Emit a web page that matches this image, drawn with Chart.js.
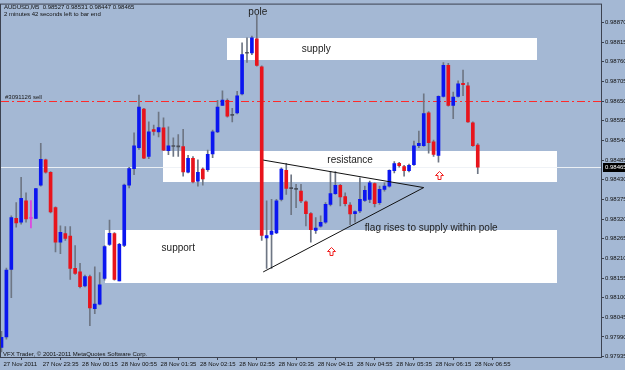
<!DOCTYPE html>
<html>
<head>
<meta charset="utf-8">
<script src="https://cdn.jsdelivr.net/npm/chart.js@4.4.0/dist/chart.umd.min.js"></script>
<style>
  html, body { margin: 0; padding: 0; background: #a4b8d4; }
  canvas { display: block; }
</style>
</head>
<body>
<canvas id="chart" width="625" height="370"></canvas>
<script>
// AUDUSD M5 candles, bar 0 = 27 Nov 22:55
const opens = [
  0.97961, 0.97990, 0.98179, 0.98322, 0.98311, 0.98371, 0.98322, 0.98322, 0.98415, 0.98486,
  0.98451, 0.98352, 0.98255, 0.98279, 0.98272, 0.98182, 0.98172, 0.98133, 0.98159, 0.98069,
  0.98082, 0.98154, 0.98249, 0.98279, 0.98147, 0.98246, 0.98415, 0.98461, 0.98520, 0.98628,
  0.98495, 0.98570, 0.98564, 0.98575, 0.98511, 0.98523, 0.98522, 0.98523, 0.98451, 0.98490,
  0.98426, 0.98460, 0.98458, 0.98502, 0.98564, 0.98638, 0.98652, 0.98610, 0.98617, 0.98670,
  0.98784, 0.98785, 0.98824, 0.98746, 0.98267, 0.98277, 0.98281, 0.98375, 0.98456, 0.98405,
  0.98403, 0.98398, 0.98368, 0.98335, 0.98288, 0.98300, 0.98311, 0.98361, 0.98391, 0.98414,
  0.98383, 0.98359, 0.98335, 0.98343, 0.98372, 0.98375, 0.98419, 0.98366, 0.98403, 0.98412,
  0.98455, 0.98476, 0.98467, 0.98455, 0.98472, 0.98525, 0.98525, 0.98617, 0.98536, 0.98498,
  0.98663, 0.98750, 0.98638, 0.98663, 0.98700, 0.98693, 0.98589, 0.98527
];
const highs = [
  0.98006, 0.98183, 0.98329, 0.98366, 0.98437, 0.98393, 0.98372, 0.98406, 0.98532, 0.98488,
  0.98453, 0.98354, 0.98301, 0.98299, 0.98299, 0.98246, 0.98196, 0.98163, 0.98163, 0.98186,
  0.98170, 0.98246, 0.98317, 0.98282, 0.98252, 0.98418, 0.98465, 0.98561, 0.98667, 0.98630,
  0.98592, 0.98583, 0.98619, 0.98603, 0.98578, 0.98547, 0.98556, 0.98571, 0.98498, 0.98495,
  0.98486, 0.98463, 0.98513, 0.98569, 0.98652, 0.98679, 0.98656, 0.98630, 0.98677, 0.98813,
  0.98827, 0.98832, 0.98890, 0.98749, 0.98371, 0.98375, 0.98375, 0.98463, 0.98476, 0.98444,
  0.98417, 0.98417, 0.98371, 0.98338, 0.98324, 0.98329, 0.98366, 0.98453, 0.98453, 0.98417,
  0.98393, 0.98366, 0.98343, 0.98435, 0.98412, 0.98426, 0.98421, 0.98412, 0.98421, 0.98458,
  0.98481, 0.98479, 0.98470, 0.98474, 0.98538, 0.98566, 0.98670, 0.98621, 0.98541, 0.98665,
  0.98758, 0.98756, 0.98675, 0.98707, 0.98737, 0.98702, 0.98592, 0.98531
];
const lows = [
  0.97948, 0.97984, 0.98100, 0.98297, 0.98306, 0.98311, 0.98295, 0.98321, 0.98412, 0.98448,
  0.98337, 0.98228, 0.98223, 0.98260, 0.98151, 0.98165, 0.98127, 0.98130, 0.98022, 0.98055,
  0.98080, 0.98149, 0.98246, 0.98149, 0.98147, 0.98243, 0.98407, 0.98444, 0.98515, 0.98489,
  0.98489, 0.98555, 0.98550, 0.98511, 0.98500, 0.98495, 0.98495, 0.98440, 0.98449, 0.98421,
  0.98412, 0.98415, 0.98453, 0.98492, 0.98562, 0.98638, 0.98605, 0.98592, 0.98614, 0.98667,
  0.98758, 0.98780, 0.98748, 0.98260, 0.98182, 0.98182, 0.98279, 0.98371, 0.98389, 0.98332,
  0.98352, 0.98366, 0.98301, 0.98255, 0.98280, 0.98297, 0.98308, 0.98357, 0.98389, 0.98357,
  0.98357, 0.98304, 0.98311, 0.98338, 0.98369, 0.98366, 0.98354, 0.98361, 0.98398, 0.98409,
  0.98449, 0.98465, 0.98440, 0.98452, 0.98470, 0.98520, 0.98523, 0.98504, 0.98495, 0.98479,
  0.98661, 0.98636, 0.98601, 0.98661, 0.98665, 0.98590, 0.98523, 0.98447
];
const closes = [
  0.97989, 0.98177, 0.98324, 0.98309, 0.98378, 0.98320, 0.98322, 0.98405, 0.98487, 0.98451,
  0.98340, 0.98255, 0.98283, 0.98266, 0.98182, 0.98168, 0.98131, 0.98159, 0.98071, 0.98082,
  0.98136, 0.98243, 0.98280, 0.98151, 0.98249, 0.98415, 0.98461, 0.98525, 0.98633, 0.98490,
  0.98564, 0.98565, 0.98576, 0.98513, 0.98525, 0.98523, 0.98522, 0.98452, 0.98490, 0.98424,
  0.98451, 0.98432, 0.98501, 0.98564, 0.98633, 0.98653, 0.98608, 0.98610, 0.98665, 0.98780,
  0.98784, 0.98827, 0.98750, 0.98274, 0.98274, 0.98286, 0.98371, 0.98460, 0.98406, 0.98405,
  0.98403, 0.98371, 0.98335, 0.98290, 0.98295, 0.98311, 0.98361, 0.98391, 0.98414, 0.98382,
  0.98363, 0.98334, 0.98341, 0.98375, 0.98400, 0.98421, 0.98363, 0.98403, 0.98412, 0.98456,
  0.98475, 0.98469, 0.98455, 0.98470, 0.98525, 0.98532, 0.98615, 0.98534, 0.98501, 0.98663,
  0.98750, 0.98638, 0.98661, 0.98698, 0.98696, 0.98592, 0.98525, 0.98465
];
const markedBars = [6];

const tickBars = [0, 8, 16, 24, 32, 40, 48, 56, 64, 72, 80, 88, 96];
const tickLabels = [
  '27 Nov 2011', '27 Nov 23:35', '28 Nov 00:15', '28 Nov 00:55', '28 Nov 01:35',
  '28 Nov 02:15', '28 Nov 02:55', '28 Nov 03:35', '28 Nov 04:15', '28 Nov 04:55',
  '28 Nov 05:35', '28 Nov 06:15', '28 Nov 06:55'
];
const priceTicks = [
  0.98870, 0.98815, 0.98760, 0.98705, 0.98650, 0.98595, 0.98540, 0.98485, 0.98430,
  0.98375, 0.98320, 0.98265, 0.98210, 0.98155, 0.98100, 0.98045, 0.97990, 0.97935
];

// drawn objects on the chart (bar index / price)
const zoneNames = ['supply', 'resistance', 'support'];
const zoneFrom = [45.9, 32.9, 21.1];
const zoneTo = [109.1, 113.1, 113.1];
const zoneTop = [0.98826, 0.98510, 0.98288];
const zoneBottom = [0.98765, 0.98424, 0.98142];
const zoneLabelBars = [64.1, 71.0, 36.0];
const zoneLabelPrices = [0.98795, 0.98485, 0.98239];

const flagPoints = [
  { x: 53.3, y: 0.98485 },
  { x: 86.0, y: 0.98408 },
  { x: 53.3, y: 0.98172 }
];
const flagText = 'flag rises to supply within pole';
const flagTextBar = 74.0;
const flagTextPrice = 0.98295;
const poleTextBar = 52.2;
const poleTextPrice = 0.98898;

const arrowBars = [67.2, 89.2];
const arrowPrices = [0.98230, 0.98443];

const orderPrice = 0.98650;
const orderLabel = '#3091126 sell';

const headerLine1 = 'AUDUSD,M5  0.98527 0.98531 0.98447 0.98465';
const headerLine2 = '2 minutes 42 seconds left to bar end';
const footerText = 'VFX Trader, \u00a9 2001-2011 MetaQuotes Software Corp.';

const SMALL_FAMILY = '"Liberation Sans", Arial, sans-serif';
const SMALL_FONT = '6px ' + SMALL_FAMILY;
const NOTE_FONT = '10px ' + SMALL_FAMILY;
const FRAME = '#3c4250';

const bars = opens.map((o, i) => i);
const bodyColors = bars.map(i => {
  if (markedBars.includes(i)) return '#e040e0';
  if (closes[i] > opens[i]) return '#0b16f0';
  if (closes[i] < opens[i]) return '#e8141c';
  return '#4a4f5a';
});
const wickColors = bars.map(i => markedBars.includes(i) ? '#e040e0' : '#6e7684');

const overlay = {
  id: 'overlay',
  beforeDatasetsDraw(chart) {
    const { ctx, chartArea: a, scales: { x, y } } = chart;
    ctx.save();
    ctx.beginPath();
    ctx.rect(a.left, a.top, a.right - a.left, a.bottom - a.top);
    ctx.clip();

    ctx.fillStyle = '#ffffff';
    zoneNames.forEach((n, i) => {
      const x0 = Math.round(x.getPixelForValue(zoneFrom[i]));
      const x1 = Math.round(x.getPixelForValue(zoneTo[i]));
      const y0 = Math.round(y.getPixelForValue(zoneTop[i]));
      const y1 = Math.round(y.getPixelForValue(zoneBottom[i]));
      ctx.fillRect(x0, y0, x1 - x0, y1 - y0);
    });

    // bid line
    const by = Math.round(y.getPixelForValue(closes[closes.length - 1])) + 0.5;
    ctx.strokeStyle = 'rgba(238,241,246,0.95)';
    ctx.lineWidth = 1;
    ctx.beginPath();
    ctx.moveTo(a.left, by);
    ctx.lineTo(a.right, by);
    ctx.stroke();

    // order line
    const oy = Math.round(y.getPixelForValue(orderPrice)) + 0.5;
    ctx.strokeStyle = '#ff2a2a';
    ctx.setLineDash([8, 3, 2, 3]);
    ctx.beginPath();
    ctx.moveTo(a.left, oy);
    ctx.lineTo(a.right, oy);
    ctx.stroke();
    ctx.setLineDash([]);

    ctx.fillStyle = '#1a1a1a';
    ctx.font = SMALL_FONT;
    ctx.textAlign = 'left';
    ctx.textBaseline = 'bottom';
    ctx.fillText(orderLabel, a.left + 4, oy - 1);
    ctx.restore();
  },
  afterDatasetsDraw(chart) {
    const { ctx, chartArea: a, scales: { x, y } } = chart;
    ctx.save();

    // notes
    ctx.fillStyle = '#222222';
    ctx.font = NOTE_FONT;
    ctx.textBaseline = 'middle';
    ctx.textAlign = 'center';
    zoneNames.forEach((n, i) => {
      ctx.fillText(n, x.getPixelForValue(zoneLabelBars[i]), y.getPixelForValue(zoneLabelPrices[i]));
    });
    ctx.fillText('pole', x.getPixelForValue(poleTextBar), y.getPixelForValue(poleTextPrice));
    ctx.textAlign = 'left';
    ctx.fillText(flagText, x.getPixelForValue(flagTextBar), y.getPixelForValue(flagTextPrice));

    // arrows
    arrowBars.forEach((b, i) => {
      const cx = Math.round(x.getPixelForValue(b)) + 0.5;
      const cy = Math.round(y.getPixelForValue(arrowPrices[i])) + 0.5;
      ctx.beginPath();
      ctx.moveTo(cx, cy - 4);
      ctx.lineTo(cx + 4, cy);
      ctx.lineTo(cx + 1.5, cy);
      ctx.lineTo(cx + 1.5, cy + 4);
      ctx.lineTo(cx - 1.5, cy + 4);
      ctx.lineTo(cx - 1.5, cy);
      ctx.lineTo(cx - 4, cy);
      ctx.closePath();
      ctx.fillStyle = '#ffffff';
      ctx.fill();
      ctx.strokeStyle = '#f02020';
      ctx.lineWidth = 1;
      ctx.stroke();
    });

    // frame
    ctx.strokeStyle = FRAME;
    ctx.lineWidth = 1;
    ctx.strokeRect(a.left - 0.5, a.top - 0.5, a.right - a.left + 1, a.bottom - a.top + 1);

    // current price box
    const py = Math.round(y.getPixelForValue(closes[closes.length - 1]));
    ctx.fillStyle = '#000000';
    ctx.fillRect(a.right + 2, py - 4, 625 - a.right - 2, 9);
    ctx.fillStyle = '#ffffff';
    ctx.font = SMALL_FONT;
    ctx.textAlign = 'left';
    ctx.textBaseline = 'middle';
    ctx.fillText(closes[closes.length - 1].toFixed(5), a.right + 4, py);

    // header / footer
    ctx.fillStyle = '#111111';
    ctx.textBaseline = 'middle';
    ctx.fillText(headerLine1, a.left + 3, 7);
    ctx.fillText(headerLine2, a.left + 3, 14);
    ctx.fillText(footerText, a.left + 2, 354);
    ctx.restore();
  }
};

new Chart(document.getElementById('chart'), {
  type: 'bar',
  data: {
    datasets: [
      {
        type: 'line',
        data: flagPoints,
        borderColor: '#111111',
        borderWidth: 1,
        pointRadius: 0,
        tension: 0,
        fill: false,
        order: -1
      },
      {
        data: bars.map(i => ({ x: i, y: [opens[i], closes[i]] })),
        backgroundColor: bodyColors,
        borderWidth: 0,
        barThickness: 3,
        minBarLength: 1,
        grouped: false,
        order: 0
      },
      {
        data: bars.map(i => ({ x: i, y: [lows[i], highs[i]] })),
        backgroundColor: wickColors,
        borderWidth: 0,
        barThickness: 1,
        grouped: false,
        order: 1
      }
    ]
  },
  options: {
    responsive: false,
    animation: false,
    devicePixelRatio: 1,
    layout: { padding: { top: 1, left: 1, right: 0, bottom: 0 } },
    plugins: {
      legend: { display: false },
      tooltip: { enabled: false }
    },
    scales: {
      x: {
        type: 'linear',
        min: -0.1,
        max: 122.1,
        offset: false,
        afterBuildTicks: s => { s.ticks = tickBars.map(v => ({ value: v })); },
        afterFit: s => { s.height = 13; },
        grid: { drawOnChartArea: false, tickLength: 3, color: FRAME },
        border: { display: false },
        ticks: {
          autoSkip: false,
          maxRotation: 0,
          minRotation: 0,
          align: 'start',
          labelOffset: 2,
          padding: 1,
          color: '#111111',
          font: { family: SMALL_FAMILY, size: 6 },
          callback: (v, i) => tickLabels[i]
        }
      },
      y: {
        position: 'right',
        min: 0.97934,
        max: 0.98920,
        afterBuildTicks: s => { s.ticks = priceTicks.map(v => ({ value: v })); },
        afterFit: s => { s.width = 24; },
        grid: { drawOnChartArea: false, tickLength: 3, color: FRAME },
        border: { display: false },
        ticks: {
          padding: 1,
          color: '#111111',
          font: { family: SMALL_FAMILY, size: 6 },
          callback: v => v.toFixed(5)
        }
      }
    }
  },
  plugins: [overlay]
});
</script>
</body>
</html>
